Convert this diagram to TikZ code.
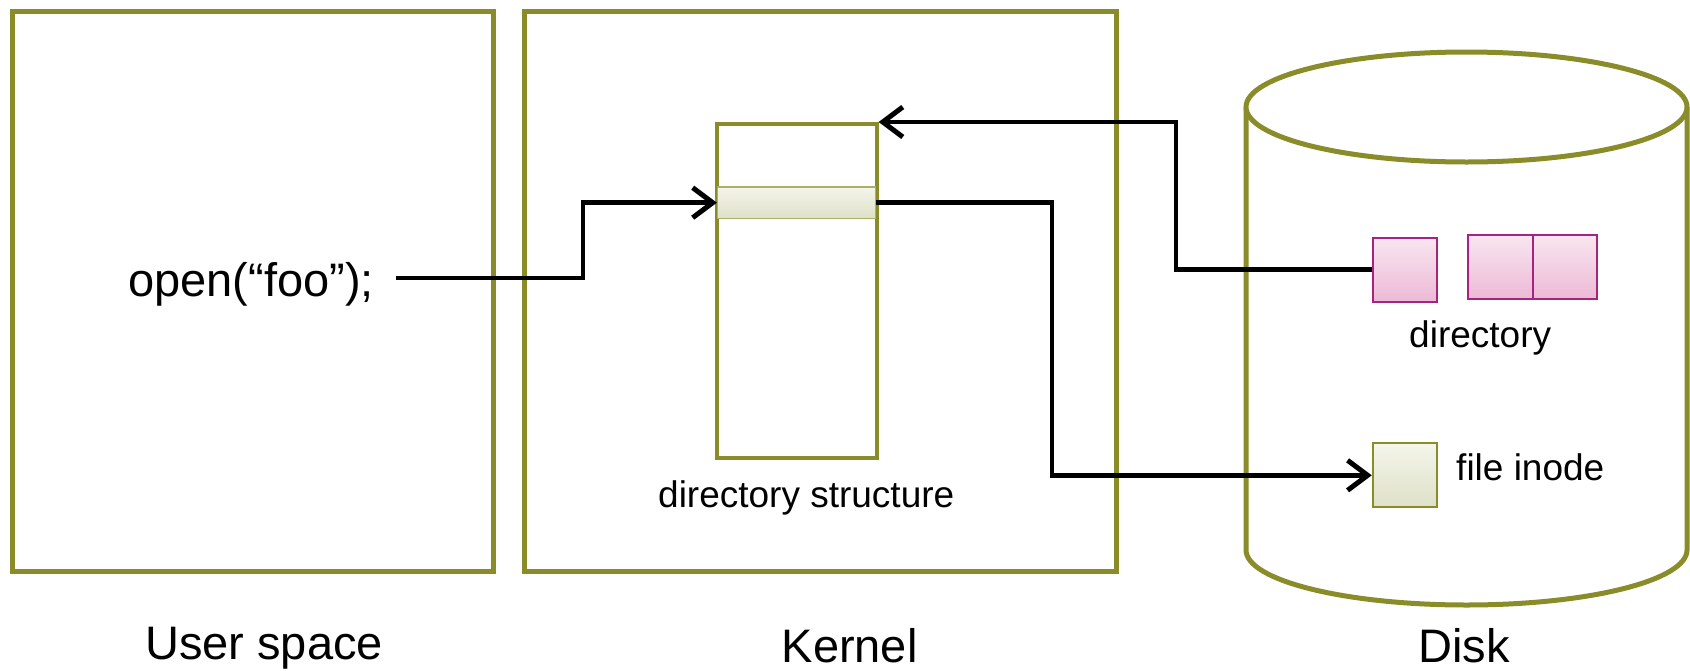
\documentclass[tikz,border=0pt]{standalone}
\usepackage{fontspec}
\setmainfont{Liberation Sans}
\usetikzlibrary{arrows.meta}
\definecolor{olive}{RGB}{137,140,40}
\definecolor{pinkedge}{RGB}{165,35,130}
\definecolor{pinktop}{RGB}{248,230,240}
\definecolor{pinkbot}{RGB}{237,185,214}
\definecolor{bandtop}{RGB}{244,245,235}
\definecolor{bandbot}{RGB}{222,225,200}
\tikzset{
  bigbox/.style={draw=olive, line width=5pt, inner sep=0pt, rectangle},
  dirbox/.style={draw=olive, line width=4pt, inner sep=0pt, rectangle},
  pinkbox/.style={draw=pinkedge, line width=2pt, inner sep=0pt, rectangle,
    minimum width=64.5pt, minimum height=64pt, top color=pinktop, bottom color=pinkbot},
  inodebox/.style={draw=olive, line width=2pt, inner sep=0pt, rectangle,
    minimum width=64.5pt, minimum height=64pt, top color=bandtop, bottom color=bandbot},
  bandbox/.style={draw=olive!70, line width=1.5pt, inner sep=0pt, rectangle,
    top color=bandtop, bottom color=bandbot},
  bigtxt/.style={inner sep=0pt, anchor=base west, font=\fontsize{47}{56}\selectfont},
  smalltxt/.style={inner sep=0pt, anchor=base west, font=\fontsize{37}{44}\selectfont},
  conn/.style={draw=black, line width=4.5pt, line join=miter},
  tip/.style={-{Straight Barb[length=20pt,width=30pt,line width=5pt]}}
}
\begin{document}
\begin{tikzpicture}[x=1pt,y=-1pt]
\useasboundingbox (0,0) rectangle (1690,670);
% containers
\node[bigbox, minimum width=481pt, minimum height=560pt] (user) at (252.5,291) {};
\node[bigbox, minimum width=592pt, minimum height=560pt] (kernel) at (820,291) {};
% disk cylinder
\draw[olive, line width=5pt] (1246,107) -- (1246,550)
  arc[start angle=180, end angle=360, x radius=220.5pt, y radius=55pt] -- (1687,107);
\draw[olive, line width=5pt, fill=white] (1466.5,107) ellipse[x radius=220.5pt, y radius=55pt];
\coordinate (disk) at (1466.5,107);
% directory structure
\node[dirbox, minimum width=160pt, minimum height=334pt] (dirs) at (796.6,291) {};
\node[bandbox, minimum width=158pt, minimum height=31.5pt] (band) at (796.6,202.7) {};
% disk blocks
\node[pinkbox] (dir1) at (1405,269.7) {};
\node[pinkbox] (dir2) at (1500.5,267.2) {};
\node[pinkbox] (dir3) at (1565,267.2) {};
\node[inodebox] (inode) at (1405,475.3) {};
% texts
\node[bigtxt] (open) at (128,296.5) {open(“foo”);};
\node[bigtxt] (luser) at (145,659) {User space};
\node[bigtxt] (lkernel) at (781.5,662) {Kernel};
\node[bigtxt] (ldisk) at (1418,662) {Disk};
\node[smalltxt] (ldirs) at (658,507) {directory structure};
\node[smalltxt] (ldir) at (1409,347) {directory};
\node[smalltxt] (linode) at (1456,480) {file inode};
% connectors
\coordinate (s1) at (396,278);
\coordinate (k1) at (583,278);
\draw[conn, tip] (s1) -- (k1) |- (band.west);
\coordinate (k2) at (1052,202.7);
\draw[conn, tip] (band.east) -- (k2) |- (inode.west);
\coordinate (k3) at (1176,269.7);
\draw[conn, tip] (dir1.west) -- (k3) |- (dirs.north east);
\end{tikzpicture}
\end{document}
